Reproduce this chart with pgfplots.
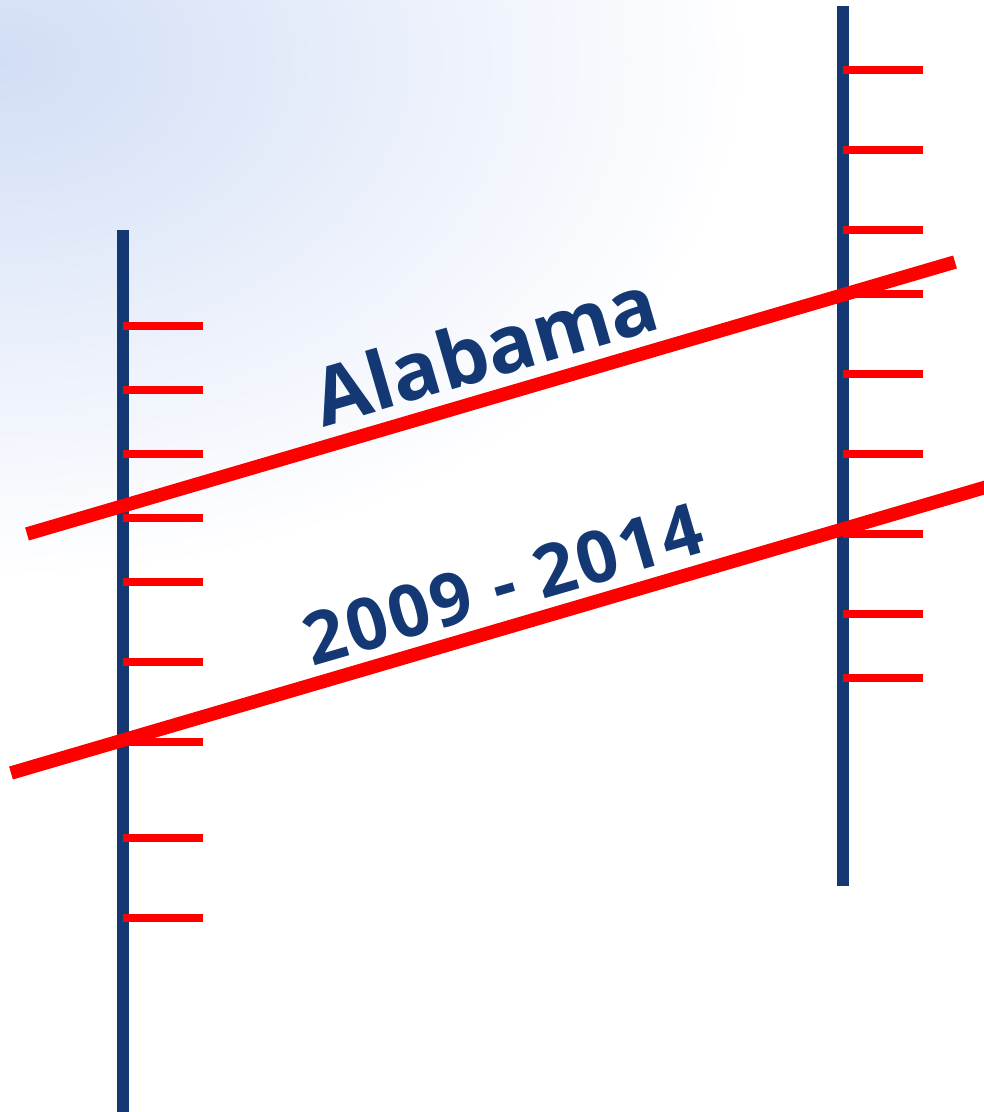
\documentclass[border=0pt]{standalone}
\usepackage{pgfplots}
\pgfplotsset{compat=1.18}
\usepackage{fontspec}
\setmainfont{Open Sans}
\definecolor{navy}{RGB}{19,56,115}
\definecolor{bgblue}{RGB}{210,222,246}
\begin{document}
\begin{tikzpicture}
\begin{axis}[
  scale only axis, width=984pt, height=1112pt,
  xmin=0, xmax=984, ymin=0, ymax=1112, y dir=reverse,
  hide axis, clip=true, unbounded coords=jump,
]
% background
\shade[inner color=bgblue, outer color=white] (axis cs:0,60) ellipse[x radius=750, y radius=520];
% vertical axes
\addplot[navy, line width=12pt, line cap=butt] coordinates {(123,230) (123,1112)};
\addplot[navy, line width=12pt, line cap=butt] coordinates {(843,6) (843,886)};
% ticks left
\addplot[red, line width=8pt, line cap=butt] coordinates {
(123,326) (203,326) (nan,nan)
(123,390) (203,390) (nan,nan)
(123,454) (203,454) (nan,nan)
(123,518) (203,518) (nan,nan)
(123,582) (203,582) (nan,nan)
(123,662) (203,662) (nan,nan)
(123,742) (203,742) (nan,nan)
(123,838) (203,838) (nan,nan)
(123,918) (203,918)
};
% ticks right
\addplot[red, line width=8pt, line cap=butt] coordinates {
(843,70) (923,70) (nan,nan)
(843,150) (923,150) (nan,nan)
(843,230) (923,230) (nan,nan)
(843,294) (923,294) (nan,nan)
(843,374) (923,374) (nan,nan)
(843,454) (923,454) (nan,nan)
(843,534) (923,534) (nan,nan)
(843,614) (923,614) (nan,nan)
(843,678) (923,678)
};
% slope lines
\addplot[red, line width=13.5pt, line cap=butt] coordinates {(27,534) (955,262)};
\addplot[red, line width=13.5pt, line cap=butt] coordinates {(11,773) (1000,483)};
% labels
\node[rotate=16.2, text=navy, font=\fontsize{80}{90}\selectfont\bfseries] at (axis cs:485,349) {Alabama};
\node[rotate=16.2, text=navy, font=\fontsize{72}{76}\selectfont\bfseries\addfontfeatures{LetterSpace=4}] at (axis cs:503,584) {2009 - 2014};
\end{axis}
\end{tikzpicture}
\end{document}
